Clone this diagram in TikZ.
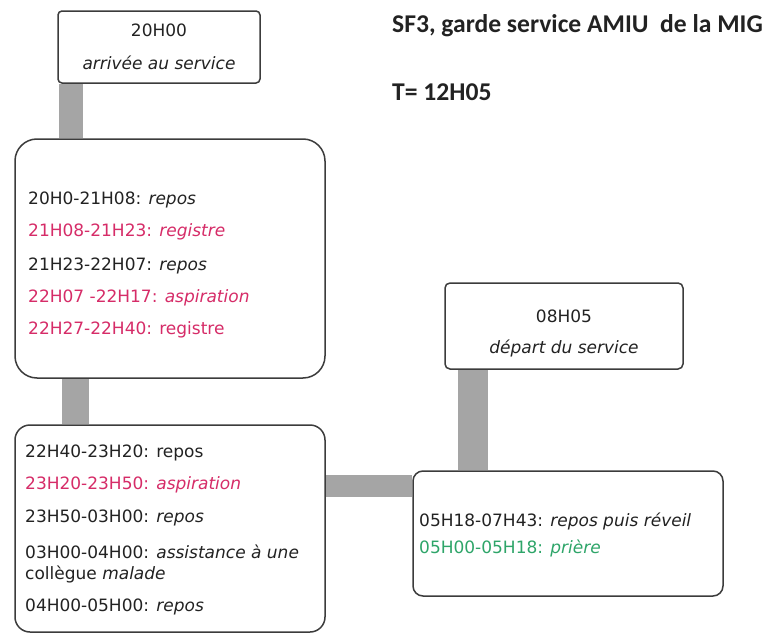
\documentclass[tikz,border=0pt]{standalone}
\usepackage{fontspec}
\setmainfont{DejaVu Sans}
\newfontfamily\titlefont{Carlito}
\usetikzlibrary{backgrounds}
\definecolor{ink}{RGB}{34,34,34}
\definecolor{edge}{RGB}{60,60,60}
\definecolor{pinkline}{RGB}{214,44,104}
\definecolor{greenline}{RGB}{46,165,105}
\definecolor{barfill}{RGB}{165,165,165}
\tikzset{
  box/.style={draw=edge, line width=1.5pt, fill=white, inner sep=0pt},
  entry/.style={anchor=west, inner sep=0pt, text=ink, font=\fontsize{17}{20}\selectfont},
  center text/.style={inner sep=0pt, text=ink, font=\fontsize{17}{20}\selectfont},
  hot/.style={text=pinkline},
  calm/.style={text=greenline},
  bar/.style={draw=barfill, line cap=butt},
  heading/.style={anchor=west, inner sep=0pt, text=ink, font=\titlefont\bfseries\fontsize{25.6}{28}\selectfont}
}
\begin{document}
\begin{tikzpicture}[x=1pt, y=-1pt]
\useasboundingbox (0,0) rectangle (772,637);

% boxes
\node[box, rounded corners=4pt, minimum width=202pt, minimum height=72pt] (arr) at (159,47) {};
\node[box, rounded corners=22pt, minimum width=310pt, minimum height=239pt] (eve) at (170,258.5) {};
\node[box, rounded corners=15pt, minimum width=310pt, minimum height=207pt] (night) at (170,528.5) {};
\node[box, rounded corners=10pt, minimum width=310pt, minimum height=125pt] (morn) at (568,533.5) {};
\node[box, rounded corners=5pt, minimum width=238pt, minimum height=86pt] (dep) at (564,326) {};

% grey links between the boxes
\begin{scope}[on background layer]
\draw[bar, line width=24pt] ([xshift=14pt]arr.south west) -- ([xshift=14pt]arr.south west |- eve.north);
\draw[bar, line width=27pt] ([xshift=61pt]eve.south west) -- ([xshift=61pt]eve.south west |- night.north);
\draw[bar, line width=22pt] (night.east |- 0,486) -- (morn.west |- 0,486);
\draw[bar, line width=30pt] ([xshift=29pt]dep.south west) -- ([xshift=29pt]dep.south west |- morn.north);
\end{scope}

% heading
\node[heading] (title) at (392,26) {SF3, garde service AMIU\ \ de la MIG};
\node[heading] (tval) at (392,92) {T= 12H05};

% arrival
\node[center text] (arrT) at (159,30) {20H00};
\node[center text] (arrD) at (159,63) {\itshape arrivée au service};

% evening
\node[entry] (e1) at (28,200) {20H0-21H08: \textit{repos}};
\node[entry, hot] (e2) at (28,232) {21H08-21H23: \textit{registre}};
\node[entry] (e3) at (28,266) {21H23-22H07: \textit{repos}};
\node[entry, hot] (e4) at (28,298) {22H07 -22H17: \textit{aspiration}};
\node[entry, hot] (e5) at (28,330) {22H27-22H40: registre};

% night
\node[entry] (n1) at (25,453) {22H40-23H20: repos};
\node[entry, hot] (n2) at (25,485) {23H20-23H50: \textit{aspiration}};
\node[entry] (n3) at (25,518) {23H50-03H00: \textit{repos}};
\node[entry] (n4) at (25,552) {03H00-04H00: \textit{assistance à une}};
\node[entry] (n5) at (25,574) {collègue \textit{malade}};
\node[entry] (n6) at (25,607) {04H00-05H00: \textit{repos}};

% morning
\node[entry] (m1) at (419,521) {05H18-07H43: \textit{repos puis réveil}};
\node[entry, calm] (m2) at (419,548) {05H00-05H18: \textit{prière}};

% departure
\node[center text] (depT) at (564,316) {08H05};
\node[center text] (depD) at (564,348) {\itshape départ du service};
\end{tikzpicture}
\end{document}
